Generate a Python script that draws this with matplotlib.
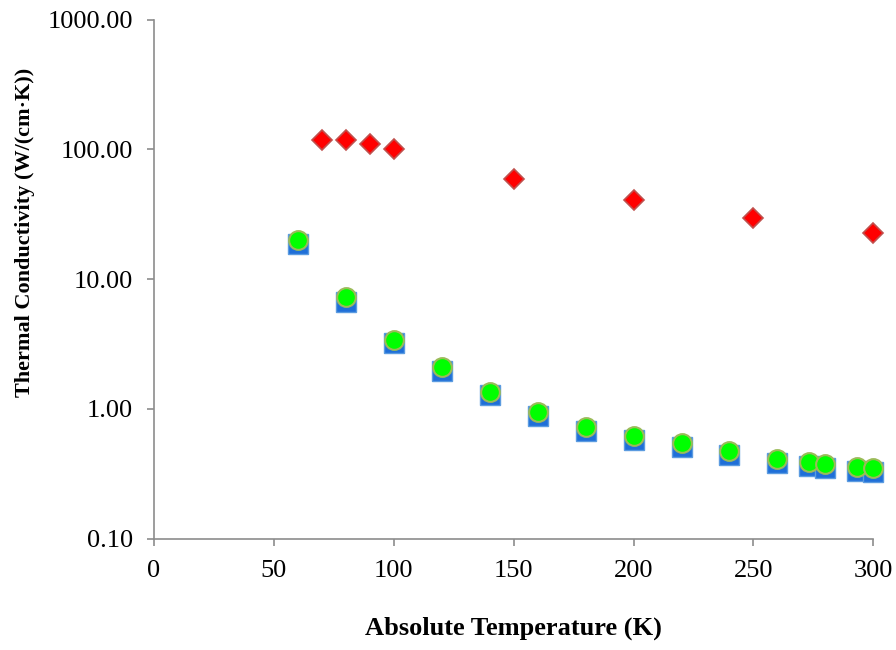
import numpy as np
import matplotlib.pyplot as plt
from matplotlib.ticker import FixedLocator, FuncFormatter

plt.rcParams['font.family'] = ['Liberation Serif', 'DejaVu Serif']

# diamonds (upper series)
t_red = [70, 80, 90, 100, 150, 200, 250, 300]
k_red = [118, 118, 110, 100, 59.7, 40.5, 29.4, 22.9]

# squares and circles (lower series)
t_low = [60, 80, 100, 120, 140, 160, 180, 200, 220, 240, 260, 273, 280, 293, 300]
k_blue = [18.8, 6.68, 3.2, 1.97, 1.27, 0.888, 0.673, 0.578, 0.507, 0.443,
          0.382, 0.364, 0.35, 0.332, 0.326]
k_green = [20.2, 7.23, 3.43, 2.11, 1.36, 0.953, 0.723, 0.62, 0.545, 0.475,
           0.41, 0.391, 0.375, 0.356, 0.35]

y_ticks = [0.1, 1, 10, 100, 1000]
x_ticks = [0, 50, 100, 150, 200, 250, 300]

fig = plt.figure(figsize=(8.96, 6.5), dpi=100)
ax = fig.add_axes([0.1719, 0.1712, 0.8028, 0.7985])

ax.plot(t_low, k_blue, 's', ms=14.5, mfc='#1f6fd8', mec='#5b9be0', mew=1.0, zorder=3)
ax.plot(t_low, k_green, 'o', ms=13.5, mfc='#00ff00', mec='#9bbb59', mew=1.5, zorder=4)
ax.plot(t_red, k_red, 'D', ms=10.5, mfc='#ff0000', mec='#c0504d', mew=1.2, zorder=5)

ax.set_yscale('log')
ax.set_ylim(0.1, 1000)
ax.set_xlim(0, 300)
ax.yaxis.set_major_locator(FixedLocator(y_ticks))
ax.yaxis.set_minor_locator(FixedLocator([]))
ax.yaxis.set_major_formatter(FuncFormatter(lambda v, p: '%.2f' % v))
ax.xaxis.set_major_locator(FixedLocator(x_ticks))

for s in ['top', 'right']:
    ax.spines[s].set_visible(False)
for s in ['left', 'bottom']:
    ax.spines[s].set_color('#8c8c8c')
    ax.spines[s].set_linewidth(1.2)
ax.tick_params(axis='both', direction='out', length=5, width=1.2, color='#8c8c8c',
               labelsize=19, pad=10)
for ln in ax.lines:
    ln.set_clip_on(False)

ax.set_xlabel('Absolute Temperature (K)', fontsize=19, fontweight='bold')
ax.set_ylabel('Thermal Conductivity (W/(cm·K))', fontsize=16, fontweight='bold')
ax.xaxis.set_label_coords(0.5, -0.15)
ax.yaxis.set_label_coords(-0.165, 0.59)

fig.savefig('out.png', dpi=100)
